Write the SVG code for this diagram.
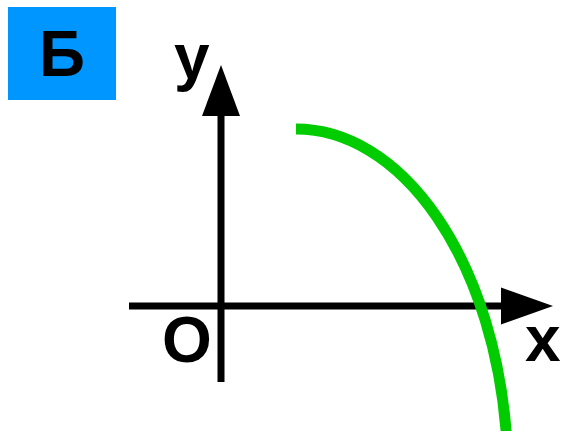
<svg xmlns="http://www.w3.org/2000/svg" width="561" height="431" viewBox="0 0 561 431">
  <style>
    .lbl { font-family: "Liberation Sans", Arial, sans-serif; font-weight: bold; font-size: 64px; fill: #000; }
    .axis { stroke: #000; stroke-width: 7; fill: none; }
    .head { fill: #000; }
  </style>
  <rect width="561" height="431" fill="#fff"/>
  <g id="badge">
    <rect x="8" y="7" width="108" height="93" fill="#0096FF"/>
    <text class="lbl" x="62" y="76" text-anchor="middle">Б</text>
  </g>
  <g id="connectors">
    <g id="y-axis">
      <line class="axis" x1="221" y1="382" x2="221" y2="112"/>
      <polygon class="head" points="221,65 202,116 240,116"/>
    </g>
    <g id="x-axis">
      <line class="axis" x1="129" y1="306" x2="505" y2="306"/>
      <polygon class="head" points="553,306 501,287.5 501,324.5"/>
    </g>
  </g>
  <g id="labels">
    <text class="lbl" x="174" y="79">y</text>
    <text class="lbl" x="525" y="361">x</text>
    <text class="lbl" x="162" y="362">O</text>
  </g>
  <g id="curve">
    <path d="M296,129 A212,348 0 0 1 506.5,436" fill="none" stroke="#00CC00" stroke-width="11"/>
  </g>
</svg>
